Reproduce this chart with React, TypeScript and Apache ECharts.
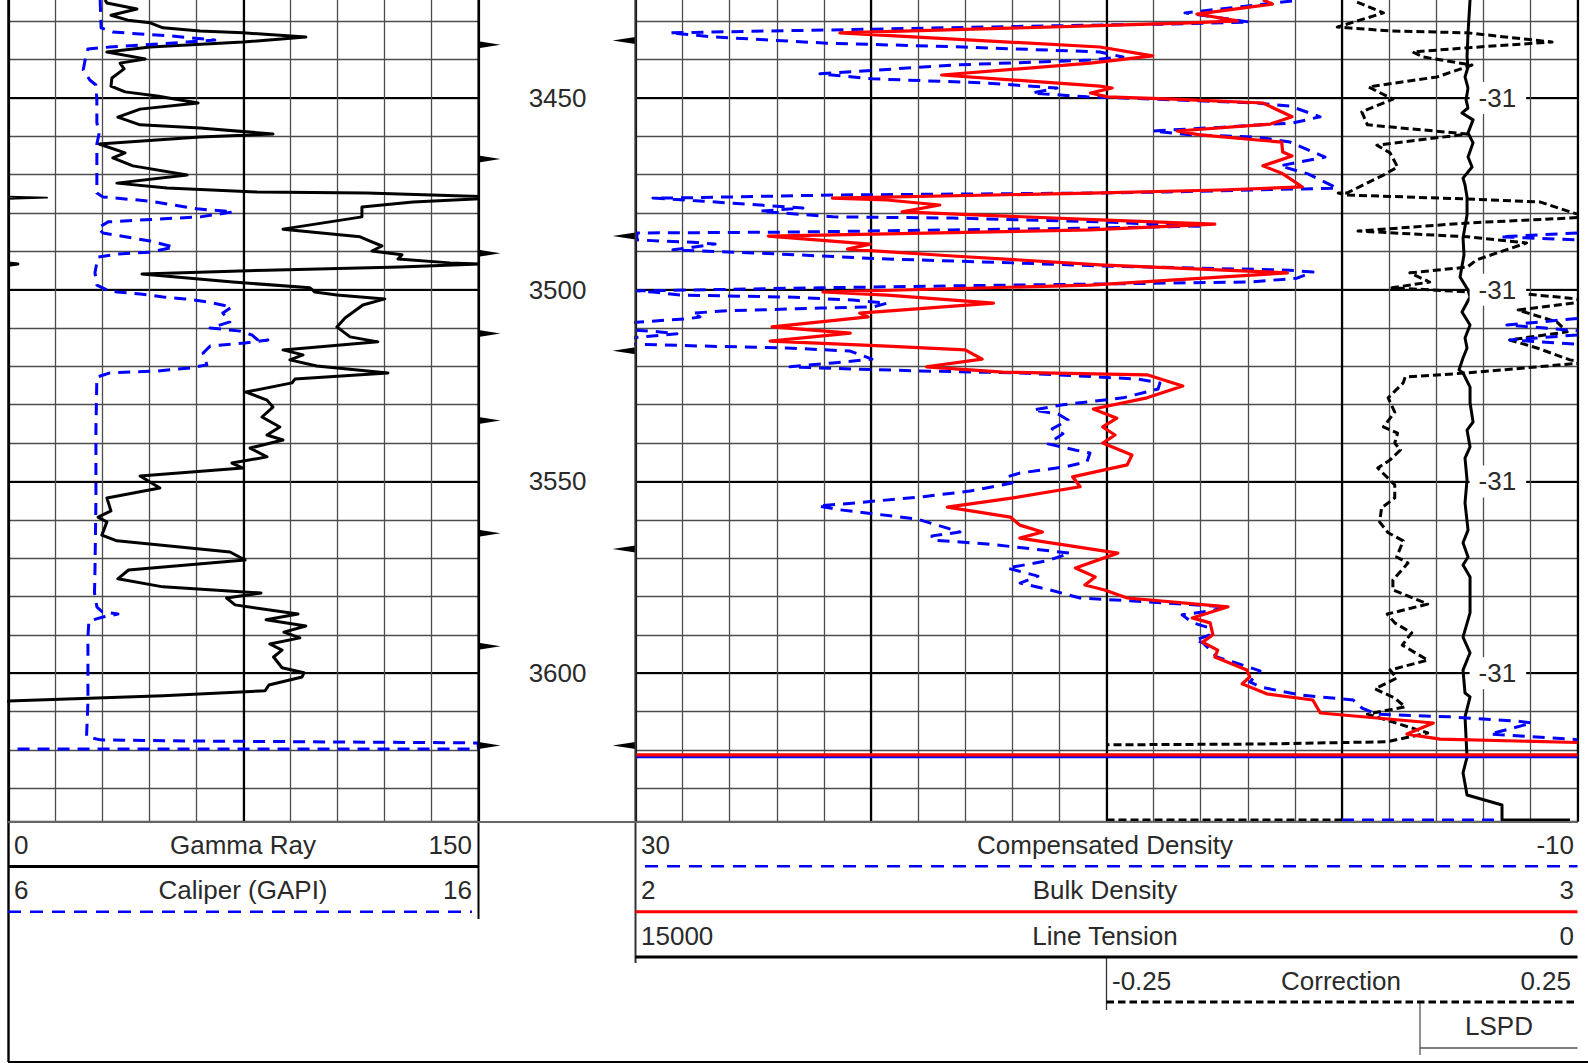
import React, { useEffect, useRef } from "react";
import * as echarts from "echarts";

const gammaRay = [[30.8,3424.4],[31.4,3425.2],[41,3426.8],[32.7,3428.4],[38.1,3429.7],[45.2,3430.4],[49.3,3431.7],[61.1,3432.5],[74.8,3433],[94.9,3434.1],[74.8,3435.4],[45.2,3436.7],[31.4,3438],[43.6,3439.8],[35.6,3440.9],[36.9,3442.4],[33,3444.8],[32.7,3446.9],[37.2,3448.4],[47.4,3449.5],[60.5,3451.3],[42,3452.9],[34.9,3455],[42,3457],[61.1,3457.8],[84.4,3459.4],[61.1,3460.2],[28.9,3462],[37.2,3464.3],[33.3,3465.6],[39.7,3467.7],[57,3470.1],[34.6,3472.2],[50.6,3473.5],[79.3,3474.5],[114.4,3474.8],[152,3475.7],[150.5,3476.3],[129.1,3477.1],[112.8,3478.4],[112.8,3481],[87.6,3484.2],[112.2,3486.2],[115.4,3487.3],[119.2,3488.6],[116,3489.9],[125.6,3490.9],[124.3,3492],[140.9,3493],[150.5,3493.3],[124.9,3494.1],[82.5,3494.9],[42.6,3495.9],[71.6,3498],[96.2,3499.5],[97.8,3500.6],[104.8,3501.4],[120.1,3502.4],[113.1,3504],[107.4,3507.4],[104.8,3509.7],[109,3512.3],[117.9,3513.6],[87.6,3515.7],[94,3517],[89.8,3518.3],[98.4,3519.9],[121.1,3521.7],[91.4,3523.3],[90.5,3524.3],[75.8,3526.7],[82.5,3528.8],[84.4,3530.6],[80.9,3533.2],[86.6,3535.8],[82.5,3537.9],[87.6,3539.2],[77.1,3541.3],[82.5,3543.6],[71.3,3545.2],[74.8,3546.5],[42,3548.6],[48.3,3551.7],[31.4,3554.3],[32.7,3557.7],[28.6,3559.3],[31.4,3560.6],[29.8,3564],[34.6,3565.5],[70.7,3568.4],[75.5,3570.5],[38.3,3573.1],[34.9,3575.4],[49.3,3577.5],[80.6,3579.1],[69.6,3580.4],[72.3,3582.2],[92.4,3584.6],[82.2,3586.1],[94.9,3587.7],[87.9,3589.3],[93,3590.8],[83.4,3592.4],[87.3,3594],[84.6,3595.8],[87.3,3598.6],[94.3,3599.9],[93.7,3601],[83.1,3603.1],[81.9,3604.6],[49.3,3605.9],[0,3607.3],[-5,3608]];
const gammaWrapA = [[0,3475.7],[12.3,3476],[0,3476.3]];
const gammaWrapB = [[0,3493],[3,3493.3],[0,3493.6]];

const caliper = [[7.95,3424.4],[7.97,3431.7],[8.22,3432.8],[8.8,3433.3],[9.44,3433.8],[10.39,3434.9],[9.8,3435.4],[8.8,3436.2],[8.16,3436.7],[7.69,3437.2],[7.63,3440.1],[7.59,3442.7],[7.73,3445.3],[7.86,3446.6],[7.88,3450.5],[7.88,3456.5],[7.93,3459.1],[7.88,3462],[7.88,3474.8],[8.01,3475.8],[9.01,3476.9],[10.01,3478.9],[10.78,3479.7],[10.08,3481],[9.16,3481.6],[8.12,3482.3],[7.9,3483.9],[8.01,3485.2],[9.01,3487.3],[9.52,3488.9],[9.01,3490.2],[8.31,3490.7],[7.9,3491.5],[7.84,3495.6],[7.88,3498.8],[8.1,3500.1],[8.31,3500.6],[8.8,3501.1],[9.29,3501.9],[9.76,3502.4],[10.25,3503.2],[10.75,3504.5],[10.56,3506.1],[10.71,3508.4],[10.29,3510],[10.71,3510.5],[10.93,3510.8],[11.18,3511.8],[11.35,3513.6],[11.52,3513.1],[11.03,3513.9],[10.29,3514.7],[10.14,3516.5],[10.22,3519.6],[9.86,3520.4],[9.16,3521.2],[8.16,3521.7],[7.88,3522.8],[7.86,3536.6],[7.86,3554.8],[7.84,3573.1],[7.83,3579.1],[7.88,3582.7],[7.99,3584],[8.33,3584.6],[8.03,3585.3],[7.71,3586.4],[7.69,3590.6],[7.69,3607.8],[7.66,3616.6],[7.95,3617.4],[9.9,3617.7],[15.99,3618.2],[16,3619.8],[6,3619.8]];

const bulkDensity = [[2.666,3424.4],[2.676,3425.5],[2.596,3428.1],[2.639,3429.9],[2.589,3430.4],[2.483,3431.2],[2.217,3433],[2.493,3436.7],[2.549,3439],[2.483,3440.9],[2.325,3444],[2.493,3446.9],[2.506,3447.4],[2.483,3448.7],[2.501,3449.7],[2.571,3450.3],[2.666,3451.3],[2.697,3454.9],[2.674,3456.8],[2.575,3458.6],[2.599,3459.6],[2.686,3461.5],[2.687,3464.1],[2.697,3465.1],[2.666,3467.7],[2.686,3469.6],[2.708,3473.2],[2.621,3474],[2.483,3474.8],[2.209,3476.1],[2.267,3476.6],[2.323,3477.9],[2.283,3479.7],[2.493,3481.8],[2.615,3482.9],[2.483,3484.4],[2.141,3486],[2.249,3488.1],[2.225,3489.4],[2.337,3491.2],[2.493,3493.5],[2.692,3495.6],[2.483,3498.8],[2.199,3500.6],[2.267,3501.4],[2.38,3503.5],[2.238,3506.1],[2.247,3507.1],[2.145,3509.7],[2.228,3511.3],[2.143,3513.4],[2.267,3514.7],[2.35,3515.7],[2.368,3518.1],[2.309,3520.1],[2.39,3521.5],[2.543,3522.2],[2.581,3525.1],[2.543,3528.2],[2.486,3531.1],[2.511,3533.5],[2.496,3535.8],[2.509,3537.9],[2.496,3540],[2.527,3543.1],[2.522,3545.7],[2.464,3548.8],[2.472,3551.4],[2.401,3554.3],[2.331,3556.7],[2.398,3559.3],[2.408,3561.4],[2.432,3563.2],[2.408,3564.8],[2.512,3568.7],[2.467,3572.6],[2.488,3574.9],[2.477,3577],[2.498,3578.3],[2.522,3580.4],[2.629,3582.7],[2.591,3585.6],[2.61,3586.9],[2.613,3590],[2.602,3591.9],[2.618,3594],[2.615,3595.8],[2.649,3599.2],[2.652,3601],[2.644,3602.8],[2.67,3605.4],[2.719,3607],[2.727,3610.4],[2.847,3613],[2.819,3615.9],[2.854,3617.2],[3,3618.1]];
const bulkFloor = [[2,3621.3],[3,3621.3]];

const compensatedDensity = [[2.12,3424.7],[6.67,3427.8],[3.91,3430.2],[7.18,3430.7],[10.7,3431],[28.54,3433],[26.62,3434.1],[21.87,3435.7],[16.09,3436.7],[10.28,3438],[9.3,3439.3],[10.7,3440.1],[16.52,3441.4],[22.17,3443.7],[19.92,3445],[15.07,3446.1],[12.1,3447.4],[13.16,3448.7],[10.83,3449.7],[9.3,3450],[3.61,3451.3],[2.21,3452.1],[0.93,3454.9],[2.08,3456.5],[5.05,3457.6],[8.03,3458.6],[6.45,3459.6],[3.61,3460.2],[2.21,3461.5],[0.72,3465.4],[2.63,3467.7],[1.44,3469.8],[0.21,3473.5],[1.66,3473.7],[7.43,3474.5],[10.7,3474.8],[21.61,3475.3],[28.54,3476.1],[29.26,3476.1],[27.13,3476.9],[22.89,3478.7],[24.71,3479.5],[21.61,3481],[16.52,3481.3],[10.28,3482.3],[5.9,3483.4],[10.28,3483.9],[16.52,3484.4],[23.86,3485],[29.94,3485.2],[29.94,3487],[28.96,3487.3],[27.56,3487.6],[26.62,3488.1],[27.56,3488.9],[28.41,3489.6],[27.26,3489.9],[23.86,3490.7],[19.32,3492],[13.97,3493],[10.28,3493.8],[2.21,3494.9],[1.23,3495.4],[1.91,3497],[3.91,3498],[10.28,3498.5],[16.52,3499],[22.17,3499.5],[29.94,3500.3],[29.26,3500.6],[28.11,3501.4],[26.41,3501.6],[23.57,3501.9],[20.76,3502.7],[19.32,3503.5],[19.92,3504.5],[22.17,3504.8],[26.11,3505.5],[27.6,3506.1],[27.26,3507.1],[27.81,3507.6],[29.81,3508.4],[31,3509],[31,3510],[30.1,3510.5],[28.96,3511],[28.24,3511.5],[29.68,3512.3],[31,3513],[30.1,3514.2],[27.13,3514.7],[23.57,3515.2],[20.89,3516],[19.96,3518.1],[21.61,3519.1],[23.44,3520.1],[22.17,3520.4],[17.92,3521.2],[13.67,3521.7],[8.66,3523.3],[7.73,3524.3],[7.81,3525.9],[9.3,3528.2],[11.85,3530],[13.12,3531.4],[12.06,3532.4],[11.63,3534],[12.31,3536.3],[11.85,3537.6],[12.48,3540.2],[11.34,3541.8],[10.7,3542.6],[10.83,3544.9],[11.76,3546.2],[13.67,3547.8],[14.22,3548.8],[14.01,3550.4],[15.8,3552.5],[17.79,3554],[20.68,3555.6],[22.25,3556.4],[21.32,3557.4],[18.05,3559.8],[16.22,3563.2],[17.41,3564.2],[17.41,3565.3],[15.07,3566.3],[11.55,3568.7],[12.53,3570.7],[14.22,3572.6],[12.91,3574.7],[13.67,3576.5],[12.53,3578.1],[11.13,3580.4],[8.28,3581.4],[4.88,3582.7],[5.61,3583.8],[6.79,3584.8],[6.33,3586.9],[5.73,3588],[5.61,3590],[6.24,3591.4],[5.9,3592.1],[5.31,3595.8],[4.63,3597.1],[3.48,3599.4],[3.91,3602.3],[3.48,3603.6],[1.78,3605.7],[-0.47,3607],[-0.85,3609.1],[-1.49,3610.7],[-4.59,3611.4],[-7.43,3612.5],[-8.07,3613],[-6.28,3615.9],[-9.68,3617.2],[-10,3617.4]];
const densityFloor = [[30,3621.8],[-10,3621.8]];
const densityWrapA = [[-10,3485.2],[-6.71,3486.2],[-10,3487]];
const densityWrapB = [[-10,3507.5],[-7,3509.2],[-10,3510.7]];
const densityWrapC = [[-10,3511.8],[-7.13,3513.1],[-10,3514.2]];
const densityBottom = [[0,3638.3],[-6.71,3638.3]];

const lineTension = [[1711,3424.4],[1743,3433],[1759,3439.3],[1743,3441.9],[1791,3444.5],[1743,3447.4],[1775,3450.5],[1743,3452.6],[1839,3453.9],[1663,3455.7],[1743,3459.1],[1663,3461.7],[1743,3465.4],[1679,3468],[1823,3470.9],[1791,3472.7],[1759,3475.8],[1759,3480.5],[1823,3486.5],[1807,3490.9],[1870,3496.7],[1743,3500.1],[1711,3501.9],[1839,3505.8],[1711,3509.2],[1791,3512.6],[1759,3515.2],[1823,3517.8],[1886,3520.9],[1823,3521.7],[1711,3525.4],[1711,3529.5],[1663,3534.5],[1759,3536.6],[1711,3541],[1791,3543.9],[1759,3549.6],[1791,3555.6],[1743,3562.7],[1823,3566],[1743,3569.7],[1823,3571.8],[1711,3574.9],[1711,3584.3],[1823,3590.6],[1711,3594.7],[1823,3599.2],[1791,3605.2],[1711,3606.2],[1791,3611.4],[1759,3621.9],[1823,3626],[1759,3631.8],[1202,3634.4],[1202,3638.3],[119,3638.3]];

const correction = [[0.016,3425],[0.044,3427.8],[-0.005,3431.5],[0.051,3432.5],[0.133,3433],[0.223,3435.4],[0.133,3436.9],[0.075,3438],[0.086,3439.3],[0.138,3441.4],[0.101,3444.5],[0.028,3447.1],[0.054,3450.3],[0.021,3453.6],[0.027,3457],[0.133,3459.4],[0.037,3462.3],[0.051,3464.3],[0.059,3468],[0.044,3470.1],[0.005,3474.8],[-0.004,3474.8],[0.005,3475.3],[0.128,3476.3],[0.21,3477.1],[0.242,3479.7],[0.26,3481],[0.242,3481.3],[0.133,3482.6],[0.017,3484.7],[0.133,3486.2],[0.196,3487.8],[0.143,3492.2],[0.133,3494.1],[0.072,3495.6],[0.093,3498],[0.053,3499.5],[0.136,3500.6],[0.194,3501.1],[0.242,3502.2],[0.26,3503],[0.187,3505.3],[0.228,3508.4],[0.239,3511],[0.178,3513.1],[0.207,3515.2],[0.242,3518.3],[0.26,3519],[0.133,3521.7],[0.067,3522.8],[0.065,3524.3],[0.049,3528.2],[0.056,3531.9],[0.044,3535.8],[0.059,3537.4],[0.056,3540],[0.062,3541.8],[0.051,3544.4],[0.038,3546.5],[0.056,3550.9],[0.056,3554.3],[0.042,3556.9],[0.04,3560.6],[0.049,3563.4],[0.065,3565.5],[0.058,3569.7],[0.07,3571.3],[0.054,3575.7],[0.054,3578.3],[0.091,3582],[0.048,3584.6],[0.056,3586.9],[0.074,3589.5],[0.064,3592.7],[0.091,3596.6],[0.051,3599.2],[0.058,3601.3],[0.035,3604.1],[0.056,3606.5],[0.067,3608.8],[0.027,3610.7],[0.091,3615.6],[0.048,3617.9],[-0.09,3618.5],[-0.25,3618.7]];
const correctionBottom = [[-0.25,3638.3],[0,3638.3]];

const lspdDepths = [3450, 3500, 3550, 3600];
const lspdValue = "-31";
const lspdTrackX = -6.62;
const leftMarkDepths = [3436.1, 3465.9, 3490.5, 3511.4, 3534.1, 3563.5, 3593, 3618.9];
const rightMarkDepths = [3435, 3486, 3515.9, 3567.6, 3618.9];

const DEPTH_MIN = 3400;
const DEPTH_MAX = 3638.75;
const GRID_TOP = -93.7;
const GRID_H = 915.4;
const FONT = "Liberation Sans";
const FS = 26;
const INK = "#2a2a2a";

const minorLine = { show: true, lineStyle: { color: "#4d4d4d", width: 1.3 } };
const majorLine = { show: true, lineStyle: { color: "#000", width: 2.2 } };

const gridX = (gridIndex: number, min: number, max: number, interval: number, split: any, inverse = false) => ({
  type: "value", gridIndex, min, max, interval, inverse, show: true,
  axisLine: { show: false }, axisTick: { show: false }, axisLabel: { show: false }, splitLine: split,
});
const plainX = (gridIndex: number, min: number, max: number, inverse = false) => ({
  type: "value", gridIndex, min, max, inverse, show: false, splitLine: { show: false },
});
const gridY = (gridIndex: number, interval: number, split: any, label: any = { show: false }) => ({
  type: "value", gridIndex, position: "left", min: DEPTH_MIN, max: DEPTH_MAX, interval, inverse: true, show: true,
  axisLine: { show: false }, axisTick: { show: false }, axisLabel: label, splitLine: split,
});

const curve = (name: string, data: number[][], x: number, y: number, color: string, width: number, dash?: number[]) => ({
  name, type: "line", data, xAxisIndex: x, yAxisIndex: y, showSymbol: false, symbol: "none", smooth: false, z: 3,
  lineStyle: { color, width, type: dash ? dash : "solid", join: "round", cap: "butt" },
});

const BLUE_DASH = [12, 8];
const BLACK_DASH = [8, 4];
const W_BLACK = 3;
const W_BLUE = 3;
const W_RED = 3.2;

const text = (t: string, x: number, y: number, align: string) => ({
  type: "text", silent: true, z: 10,
  style: { text: t, x, y, fill: INK, font: `${FS}px "${FONT}"`, textAlign: align, textVerticalAlign: "middle" },
});
const line = (x1: number, y1: number, x2: number, y2: number, stroke: string, lineWidth: number, lineDash?: number[]) => ({
  type: "line", silent: true, z: 10,
  shape: { x1, y1, x2, y2 },
  style: { stroke, lineWidth, lineDash: lineDash || null },
});

export default function App() {
  const ref = useRef<HTMLDivElement>(null);
  useEffect(() => {
    const chart = echarts.init(ref.current as HTMLDivElement, undefined, { renderer: "svg" });
    chart.setOption({
      animation: false,
      backgroundColor: "#fff",
      grid: [
        { left: 8.5, width: 470, top: GRID_TOP, height: GRID_H, outerBoundsMode: "none", containLabel: false },
        { left: 635.5, width: 942, top: GRID_TOP, height: GRID_H, outerBoundsMode: "none", containLabel: false },
        { left: 1106.5, width: 471, top: GRID_TOP, height: GRID_H, outerBoundsMode: "none", containLabel: false },
      ],
      xAxis: [
        gridX(0, 0, 150, 15, minorLine),
        gridX(0, 0, 150, 75, majorLine),
        plainX(0, 6, 16),
        gridX(1, -10, 30, 2, minorLine, true),
        gridX(1, -10, 30, 10, majorLine, true),
        plainX(1, 2, 3),
        plainX(1, 0, 15000, true),
        plainX(2, -0.25, 0.25),
      ],
      yAxis: [
        gridY(0, 10, minorLine),
        gridY(0, 50, majorLine),
        gridY(1, 10, minorLine),
        gridY(1, 50, majorLine, {
          show: true, margin: 49, color: INK, fontFamily: FONT, fontSize: FS,
          showMinLabel: false, showMaxLabel: false,
          formatter: (v: number) => (v % 50 === 0 && v > DEPTH_MIN ? String(v) : ""),
        }),
        { type: "value", gridIndex: 2, min: DEPTH_MIN, max: DEPTH_MAX, inverse: true, show: false, splitLine: { show: false } },
      ],
      series: [
        curve("Gamma Ray", gammaRay, 0, 0, "#000", W_BLACK),
        curve("Gamma Ray wrap A", gammaWrapA, 0, 0, "#000", 1.8),
        curve("Gamma Ray wrap B", gammaWrapB, 0, 0, "#000", W_BLACK),
        curve("Caliper (GAPI)", caliper, 2, 0, "#0000ff", W_BLUE, BLUE_DASH),
        curve("Line Tension", lineTension, 6, 2, "#000", W_BLACK),
        curve("Correction", correction, 7, 4, "#000", W_BLACK, BLACK_DASH),
        curve("Correction bottom", correctionBottom, 7, 4, "#000", W_BLACK, BLACK_DASH),
        curve("Compensated Density", compensatedDensity, 3, 2, "#0000ff", W_BLUE, BLUE_DASH),
        curve("Compensated Density floor", densityFloor, 3, 2, "#0000ff", W_BLUE),
        curve("Compensated Density wrap A", densityWrapA, 3, 2, "#0000ff", W_BLUE, BLUE_DASH),
        curve("Compensated Density wrap B", densityWrapB, 3, 2, "#0000ff", W_BLUE, BLUE_DASH),
        curve("Compensated Density wrap C", densityWrapC, 3, 2, "#0000ff", W_BLUE, BLUE_DASH),
        curve("Compensated Density bottom", densityBottom, 3, 2, "#0000ff", W_BLUE, BLUE_DASH),
        curve("Bulk Density", bulkDensity, 5, 2, "#ff0000", W_RED),
        curve("Bulk Density floor", bulkFloor, 5, 2, "#ff0000", W_RED),
        {
          name: "LSPD", type: "scatter", xAxisIndex: 3, yAxisIndex: 2, symbolSize: 1, z: 5,
          itemStyle: { color: "#fff", opacity: 1 },
          data: lspdDepths.map((d) => [lspdTrackX, d]),
          label: {
            show: true, position: "inside", formatter: lspdValue, color: INK, fontFamily: FONT, fontSize: FS,
            opacity: 1, backgroundColor: "#ffffff", padding: [3, 10, 3, 9],
          },
        },
        {
          name: "Left marks", type: "scatter", xAxisIndex: 0, yAxisIndex: 0, clip: false, z: 4,
          symbol: "path://M0 0L20 2.5L0 5Z", symbolSize: [22, 7], symbolOffset: [11, 0], symbolKeepAspect: false,
          itemStyle: { color: "#000", opacity: 1 },
          data: leftMarkDepths.map((d) => [150, d]),
        },
        {
          name: "Right marks", type: "scatter", xAxisIndex: 3, yAxisIndex: 2, clip: false, z: 4,
          symbol: "path://M20 0L0 2.5L20 5Z", symbolSize: [23, 7], symbolOffset: [-11.5, 0], symbolKeepAspect: false,
          itemStyle: { color: "#000", opacity: 1 },
          data: rightMarkDepths.map((d) => [30, d]),
        },
      ],
      graphic: [
        line(8.5, 0, 8.5, 1062, "#000", 2.4),
        line(478.5, 0, 478.5, 919, "#000", 2),
        line(635.5, 0, 635.5, 963, "#333", 2),
        line(8, 822, 1577.5, 822, "#666", 2),
        line(1106.5, 957, 1106.5, 1010, "#333", 1.3),
        line(1420, 1002, 1420, 1055, "#555", 1.3),
        line(1420, 1048, 1577.5, 1048, "#555", 1.5),
        line(8, 1062, 1588, 1062, "#000", 2),
        line(8, 866.5, 478.5, 866.5, "#000", 3),
        line(8, 911.7, 472, 911.7, "#0000ff", 2.6, [13, 9]),
        line(645, 866.3, 1577.5, 866.3, "#0000ff", 2.6, [13, 9]),
        line(635.5, 911.7, 1577.5, 911.7, "#ff0000", 3),
        line(635.5, 957, 1577.5, 957, "#000", 3),
        line(1106.5, 1002, 1577.5, 1002, "#000", 3, [7.5, 4]),
        text("0", 14, 845, "left"),
        text("Gamma Ray", 243, 845, "center"),
        text("150", 472, 845, "right"),
        text("6", 14, 890, "left"),
        text("Caliper (GAPI)", 243, 890, "center"),
        text("16", 472, 890, "right"),
        text("30", 641, 845, "left"),
        text("Compensated Density", 1105, 845, "center"),
        text("-10", 1574, 845, "right"),
        text("2", 641, 890, "left"),
        text("Bulk Density", 1105, 890, "center"),
        text("3", 1574, 890, "right"),
        text("15000", 641, 936, "left"),
        text("Line Tension", 1105, 936, "center"),
        text("0", 1574, 936, "right"),
        text("-0.25", 1112, 981, "left"),
        text("Correction", 1341, 981, "center"),
        text("0.25", 1571, 981, "right"),
        text("LSPD", 1499, 1026, "center"),
      ],
    });
    return () => chart.dispose();
  }, []);
  return <div ref={ref} style={{ position: "absolute", left: 0, top: 0, width: 1588, height: 1063 }} />;
}
